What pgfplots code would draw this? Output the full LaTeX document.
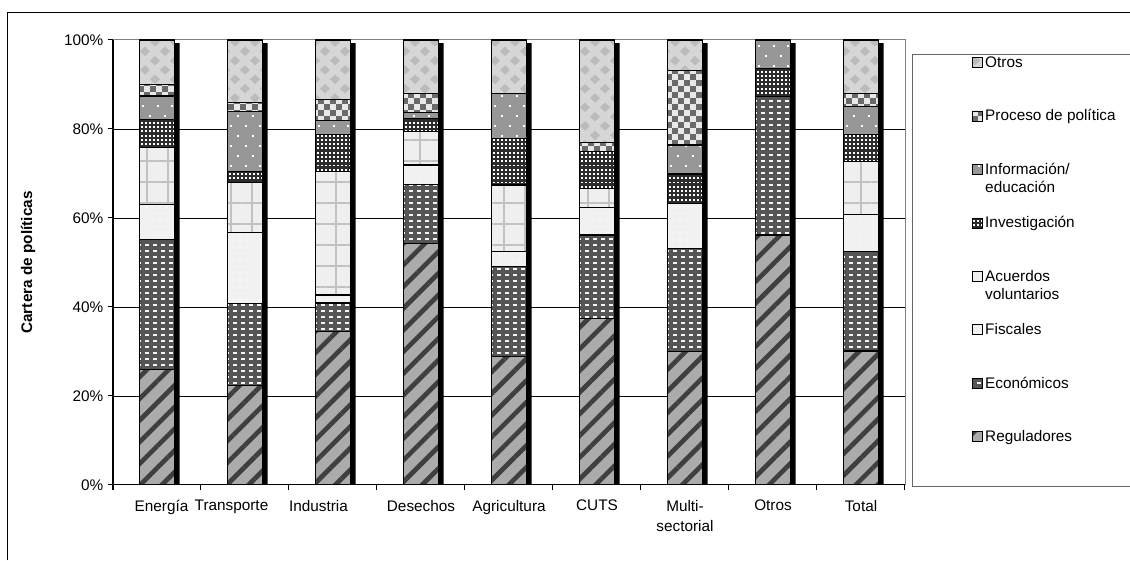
\documentclass[border=0pt]{standalone}
\usepackage{fontspec}
\setmainfont{Liberation Sans}
\usepackage{pgfplots}
\usepackage{pgfplotstable}
\pgfplotsset{compat=1.18}
\usetikzlibrary{patterns,patterns.meta}

% fill patterns for the policy instruments
\pgfdeclarepatternformonly{econdash}{\pgfpoint{-1pt}{-1pt}}{\pgfpoint{7pt}{6pt}}{\pgfpoint{6pt}{4.5pt}}{%
  \pgfpathrectangle{\pgfpoint{0.5pt}{1.4pt}}{\pgfpoint{3.6pt}{1.6pt}}\pgfusepath{fill}}
\pgfdeclarepatternformonly{investsq}{\pgfpoint{-1pt}{-1pt}}{\pgfpoint{4pt}{4pt}}{\pgfpoint{3pt}{3.2pt}}{%
  \pgfpathrectangle{\pgfpoint{0.6pt}{0.8pt}}{\pgfpoint{1.4pt}{1.4pt}}\pgfusepath{fill}}
\pgfdeclarepatternformonly{infodots}{\pgfpoint{-1pt}{-1pt}}{\pgfpoint{12pt}{16pt}}{\pgfpoint{11pt}{15pt}}{%
  \pgfpathrectangle{\pgfpoint{2pt}{2pt}}{\pgfpoint{1.5pt}{1.5pt}}\pgfusepath{fill}
  \pgfpathrectangle{\pgfpoint{7.5pt}{9.5pt}}{\pgfpoint{1.5pt}{1.5pt}}\pgfusepath{fill}}
\pgfdeclarepatternformonly{checker}{\pgfpoint{-1pt}{-1pt}}{\pgfpoint{10pt}{10pt}}{\pgfpoint{9pt}{9pt}}{%
  \pgfpathrectangle{\pgfpoint{0pt}{0pt}}{\pgfpoint{4.5pt}{4.5pt}}\pgfusepath{fill}
  \pgfpathrectangle{\pgfpoint{4.5pt}{4.5pt}}{\pgfpoint{4.5pt}{4.5pt}}\pgfusepath{fill}}
\pgfdeclarepatternformonly{diamonds}{\pgfpoint{-1pt}{-1pt}}{\pgfpoint{16pt}{15pt}}{\pgfpoint{15pt}{14pt}}{%
  \pgfpathmoveto{\pgfpoint{3.75pt}{0pt}}\pgfpathlineto{\pgfpoint{7.5pt}{3.5pt}}%
  \pgfpathlineto{\pgfpoint{3.75pt}{7pt}}\pgfpathlineto{\pgfpoint{0pt}{3.5pt}}\pgfpathclose
  \pgfpathmoveto{\pgfpoint{11.25pt}{7pt}}\pgfpathlineto{\pgfpoint{15pt}{10.5pt}}%
  \pgfpathlineto{\pgfpoint{11.25pt}{14pt}}\pgfpathlineto{\pgfpoint{7.5pt}{10.5pt}}\pgfpathclose
  \pgfusepath{fill}}

\definecolor{regfill}{HTML}{ABABAB}
\definecolor{regline}{HTML}{3F3F3F}
\definecolor{econfill}{HTML}{555555}
\definecolor{econdot}{HTML}{F4F4F4}
\definecolor{fiscfill}{HTML}{F1F1F1}
\definecolor{acufill}{HTML}{EFEFEF}
\definecolor{aculine}{HTML}{C2C2C2}
\definecolor{invfill}{HTML}{2C2C2C}
\definecolor{infofill}{HTML}{979797}
\definecolor{procfill}{HTML}{6A6A6A}
\definecolor{proclight}{HTML}{E8E8E8}
\definecolor{otrfill}{HTML}{D6D6D6}
\definecolor{otrdia}{HTML}{BBBBBB}

% share of each instrument (%), bottom to top
\pgfplotstableread{
x reg  econ fisc acu  inv  info proc otros
0 26.0 29.2 7.9  12.7 6.4  5.2  2.6  10.0
1 22.3 18.4 16.0 11.2 2.5  13.5 2.0  14.1
2 34.5 6.4  1.8  27.7 8.3  3.2  4.8  13.3
3 54.3 13.3 4.3  7.5  3.0  1.3  4.3  12.0
4 28.8 20.3 3.3  15.0 10.5 10.1 0.0  12.0
5 37.5 18.7 6.1  4.4  8.2  0.0  2.1  23.0
6 30.0 23.2 10.1 0.0  6.6  6.5  16.7 6.9
7 56.2 31.1 0.0  0.0  6.3  6.4  0.0  0.0
8 30.1 22.3 8.3  12.0 6.0  6.3  3.0  12.0
}\cartera

\newcommand{\chartfont}{\fontsize{11.5}{13.5}\selectfont}
\newcommand{\leg}[1]{\parbox[t]{109pt}{\raggedright\chartfont #1}}

\pgfplotsset{
  base/.style={
    scale only axis, width=594pt, height=333.75pt,
    at={(84.75pt,56.25pt)}, anchor=south west,
    xmin=-0.5, xmax=8.5, ymin=0, ymax=100,
  },
  seg/.style={
    draw=black, line width=0.9pt,
    legend image code/.code={\path (-44.8pt,0pt);
      \draw[##1, line width=0.6pt] (0pt,0pt) rectangle (7.5pt,7.5pt);}
  },
}

\begin{document}
\begin{tikzpicture}
\useasboundingbox (0,0) rectangle (847.5pt,420pt);
\draw[black, line width=0.75pt] (5.25pt,0pt) -- (5.25pt,410.25pt) -- (848pt,410.25pt);

% background: plot frame, grid and bar shadows
\begin{axis}[base,
  axis line style={draw=black!50, line width=0.75pt},
  xtick=\empty, ytick={20,40,60,80}, yticklabels={},
  major tick length=0pt,
  ymajorgrids, major grid style={black, line width=0.6pt},
]
\addplot[ybar, bar width=26.25pt, bar shift=3.75pt, fill=black, draw=none]
  coordinates {(0,99.3) (1,99.3) (2,99.3) (3,99.3) (4,99.3) (5,99.3) (6,99.3) (7,99.3) (8,99.3)};
\end{axis}

\begin{axis}[base,
  ybar stacked, bar width=26.25pt,
  axis x line*=bottom, axis y line*=left,
  axis line style={black, line width=0.75pt},
  tick align=outside, major tick length=3.75pt,
  tick style={black, line width=0.75pt},
  tick label style={font=\chartfont},
  xtick={-0.5,0.5,...,8.5},
  x tick label as interval,
  xticklabels={Energía\hspace*{-6.75pt},\hspace*{-20.25pt}Transporte,\hspace*{-21.75pt}Industria,Desechos,Agricultura,CUTS,{Multi-\\[1.5pt]sectorial},Otros,Total},
  xticklabel style={align=center, yshift=-4pt},
  ytick={0,20,40,60,80,100},
  yticklabels={0\%,20\%,40\%,60\%,80\%,100\%},
  ylabel={\bfseries Cartera de políticas},
  every axis y label/.style={at={(axis description cs:-0.1073,0.5)}, rotate=90, anchor=center, font=\chartfont},
  reverse legend,
  legend style={at={(axis description cs:1.00884,0.96854)}, anchor=north west,
    draw=black!60, line width=0.75pt, inner xsep=0pt, inner ysep=1.75pt,
    row sep=0pt, column sep=1.5pt, font=\chartfont,
    cells={anchor=base west},
    nodes={inner sep=0pt, anchor=base west, text height=8pt, text depth=32.1pt}},
]
\addplot[seg, fill=regfill, postaction={pattern={Lines[angle=45,distance=11.5pt,line width=3.5pt]}, pattern color=regline}]
  table[x=x, y=reg] {\cartera};
\addlegendentry{\leg{Reguladores}}
\addplot[seg, fill=econfill, postaction={pattern=econdash, pattern color=econdot}]
  table[x=x, y=econ] {\cartera};
\addlegendentry{\leg{Económicos}}
\addplot[seg, fill=fiscfill, postaction={pattern={Dots[distance=5pt,radius=0.6pt]}, pattern color=white}]
  table[x=x, y=fisc] {\cartera};
\addlegendentry{\leg{Fiscales}}
\addplot[seg, fill=acufill, postaction={pattern={Hatch[angle=0,distance=15.75pt,line width=1.5pt]}, pattern color=aculine}]
  table[x=x, y=acu] {\cartera};
\addlegendentry{\leg{Acuerdos\\voluntarios}}
\addplot[seg, fill=invfill, postaction={pattern=investsq, pattern color=white}]
  table[x=x, y=inv] {\cartera};
\addlegendentry{\leg{Investigación}}
\addplot[seg, fill=infofill, postaction={pattern=infodots, pattern color=white}]
  table[x=x, y=info] {\cartera};
\addlegendentry{\leg{Información/\\educación}}
\addplot[seg, fill=procfill, postaction={pattern=checker, pattern color=proclight}]
  table[x=x, y=proc] {\cartera};
\addlegendentry{\leg{Proceso de política}}
\addplot[seg, fill=otrfill, postaction={pattern=diamonds, pattern color=otrdia}]
  table[x=x, y=otros] {\cartera};
\addlegendentry{\leg{Otros}}
\end{axis}
\end{tikzpicture}
\end{document}
